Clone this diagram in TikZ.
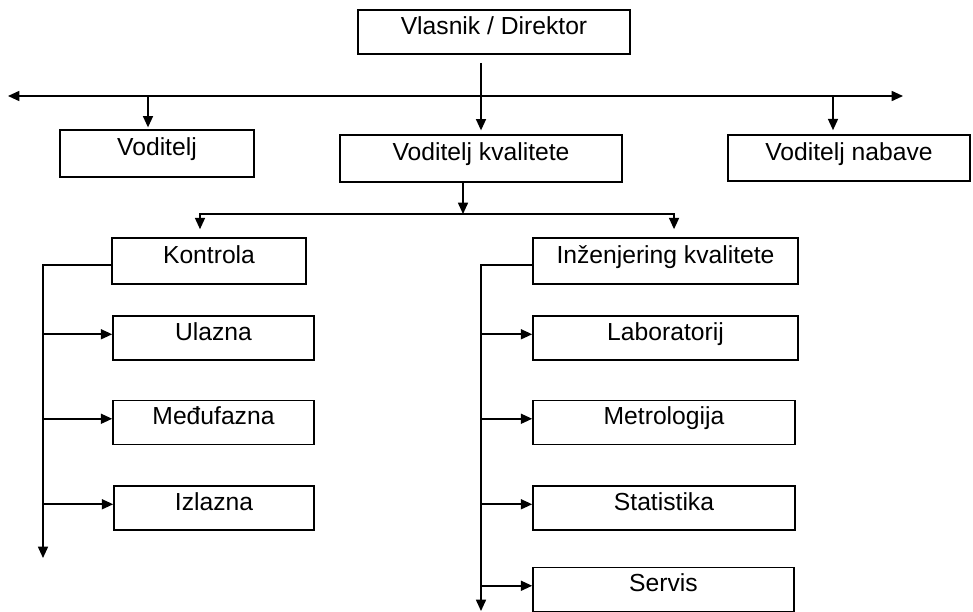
\documentclass[tikz,border=0pt]{standalone}
\usepackage{fontspec}
\setmainfont{Liberation Sans}
\usetikzlibrary{arrows.meta,positioning}

\begin{document}
\begin{tikzpicture}[
  x=0.75pt, y=-0.75pt,
  font=\fontsize{18.5}{20}\selectfont,
  line width=1.2pt,
  box/.style={draw, inner xsep=0pt, inner ysep=0pt, text height=18pt, text depth=15pt},
  arr/.style={-{Triangle[length=8.5pt,width=7.5pt]}},
  darr/.style={{Triangle[length=8.5pt,width=7.5pt]}-{Triangle[length=8.5pt,width=7.5pt]}}
]
\useasboundingbox (0,0) rectangle (973,611);

\node[box, minimum width=204pt, minimum height=33pt] (dir) at (494,32) {Vlasnik / Direktor};
\node[box, minimum width=145.5pt, minimum height=35pt] (vod) at (157,153.5) {Voditelj};
\node[box, minimum width=211.5pt, minimum height=35pt] (vk) at (481,158.5) {Voditelj kvalitete};
\node[box, minimum width=181.5pt, minimum height=34.5pt] (nab) at (849,158) {Voditelj nabave};

\node[box, minimum width=145.5pt, minimum height=34.5pt] (kon) at (209,261) {Kontrola};
\node[box, minimum width=150.75pt, minimum height=33pt] (ula) at (213.5,338) {Ulazna};
\node[box, minimum width=150.75pt, minimum height=32.25pt] (med) at (213.5,422.5) {Međufazna};
\node[box, minimum width=150pt, minimum height=31.5pt] (izl) at (214,508) {Izlazna};

\node[box, minimum width=198.75pt, minimum height=34.5pt] (inz) at (665.5,261) {Inženjering kvalitete};
\node[box, minimum width=198.75pt, minimum height=33pt] (lab) at (665.5,338) {Laboratorij};
\node[box, minimum width=196.5pt, minimum height=32.25pt] (met) at (664,422.5) {Metrologija};
\node[box, minimum width=196.5pt, minimum height=31.5pt] (sta) at (664,508) {Statistika};
\node[box, minimum width=195.75pt, minimum height=30.75pt] (ser) at (663.5,589.5) {Servis};

\coordinate (lineL) at (8,96);
\coordinate (lineR) at (903,96);
\coordinate (split) at (463,214);
\coordinate (konEnd) at (43,558);
\coordinate (inzEnd) at (481,611);

\draw[darr] (lineL) -- (lineR);
\draw[arr] ([yshift=-6pt]dir.south -| vk.north) -- ([yshift=3pt]vk.north);
\draw[arr] ([xshift=-6.75pt]vod.north |- lineL) -- ([xshift=-6.75pt,yshift=1.5pt]vod.north);
\draw[arr] ([xshift=-12pt]nab.north |- lineL) -- ([xshift=-12pt,yshift=3pt]nab.north);

\draw[arr] (vk.south -| split) -- (split);
\draw[arr] (split) -| ([xshift=-6.75pt,yshift=6pt]kon.north);
\draw[arr] (split) -| ([xshift=6.4pt,yshift=6pt]inz.north);

\draw[arr] ([yshift=-3pt]kon.west) -| (konEnd);
\foreach \n in {ula,med,izl}
  \draw[arr] ([yshift=2.8pt]\n.west -| konEnd) -- ([yshift=2.8pt]\n.west);

\draw[arr] ([yshift=-3pt]inz.west) -| (inzEnd);
\foreach \n in {lab,met,sta,ser}
  \draw[arr] ([yshift=2.8pt]\n.west -| inzEnd) -- ([yshift=2.8pt]\n.west);
\end{tikzpicture}
\end{document}
